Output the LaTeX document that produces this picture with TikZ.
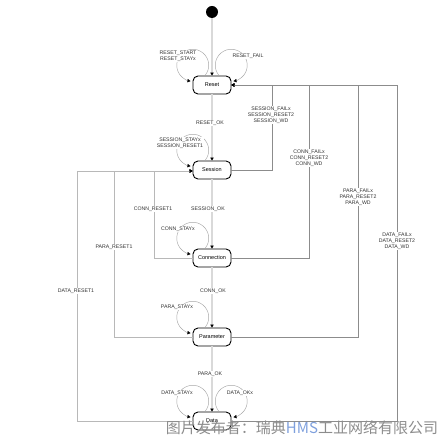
\documentclass[tikz,border=0pt]{standalone}
\usepackage{fontspec}
\setmainfont{Liberation Sans}
\newfontfamily\cjk{Noto Sans CJK SC}
\usetikzlibrary{arrows.meta}
\definecolor{mainline}{HTML}{D9D9D9}
\definecolor{hmsblue}{HTML}{7FA0DD}
\begin{document}
\begin{tikzpicture}[x=1pt,y=1pt]
        \tikzstyle{block} = [rectangle, rounded corners=5pt, text=black, text centered, draw=black, line width=.9pt, fill=white, font=\fontsize{5.5}{6}\selectfont, minimum width=38pt, minimum height=18pt, inner sep=0pt]
        \tikzstyle{lbl} = [fill=white, inner sep=.5pt, align=center, text=black!80, font=\fontsize{5.2}{6.2}\selectfont]
        \tikzstyle{tip} = [-{Triangle[length=3pt,width=3.4pt,color=black]}]
        \tikzstyle{line} = [tip, draw=mainline, line width=2.4pt]
        \tikzstyle{fail} = [tip, draw=black!45, line width=.7pt]
        \tikzstyle{back} = [tip, draw=black!28, line width=.7pt]
        \tikzstyle{loopline} = [tip, draw=black!35, line width=.45pt]
        \useasboundingbox (0,0) rectangle (445,439);
        \node[circle, fill=black, minimum size=12pt, inner sep=0pt] (start) at (212,427) {};
        \node[block] (reset) at (212,354) {Reset};
        \node[block] (session) at (212,269) {Session};
        \node[block] (conn) at (212,181) {Connection};
        \node[block] (para) at (212,102) {Parameter};
        \node[block] (data) at (212,18) {Data};
        % main flow
        \draw[line] (start) to (reset);
        \draw[line] (reset) to (session);
        \draw[line] (session) to (conn);
        \draw[line] (conn) to (para);
        \draw[line] (para) to (data);
        % fail / watchdog back to reset
        \draw[fail] (session.east) -- ++(41,0) |- (reset.east);
        \draw[fail] (conn.east) -- ++(78,0) |- (reset.east);
        \draw[fail] (para.east) -- ++(127,0) |- (reset.east);
        \draw[fail] (data.east) -- ++(166,0) |- (reset.east);
        % reset1 back to session
        \draw[back] (conn.west) -- ++(-38,0) |- ([yshift=-1pt]session.west);
        \draw[back] (para.west) -- ++(-78,0) |- ([yshift=-1pt]session.west);
        \draw[back] (data.west) -- ++(-115,0) |- ([yshift=-1pt]session.west);
        % self loops
        \draw[loopline] ([xshift=-7pt]reset.north) arc[start angle=-40, end angle=262, radius=16pt];
        \draw[loopline] ([xshift=7pt]reset.north) arc[start angle=220, end angle=-82, radius=16pt];
        \draw[loopline] ([xshift=-7pt]session.north) arc[start angle=-40, end angle=262, radius=16pt];
        \draw[loopline] ([xshift=-7pt]conn.north) arc[start angle=-40, end angle=262, radius=16pt];
        \draw[loopline] ([xshift=-7pt]para.north) arc[start angle=-40, end angle=262, radius=16pt];
        \draw[loopline] ([xshift=-7pt]data.north) arc[start angle=-40, end angle=262, radius=16pt];
        \draw[loopline] ([xshift=7pt]data.north) arc[start angle=220, end angle=-82, radius=16pt];
        % labels
        \node[lbl] (lresetstart) at (178,383) {RESET\_START\\RESET\_STAYx};
        \node[lbl] (lresetfail) at (248,383) {RESET\_FAIL};
        \node[lbl] (lresetok) at (210,316) {RESET\_OK};
        \node[lbl] (lsessstay) at (180,296) {SESSION\_STAYx\\SESSION\_RESET1};
        \node[lbl] (lsessfail) at (271,324) {SESSION\_FAILx\\SESSION\_RESET2\\SESSION\_WD};
        \node[lbl] (lsessok) at (208,230) {SESSION\_OK};
        \node[lbl] (lconnreset) at (153,230) {CONN\_RESET1};
        \node[lbl] (lconnstay) at (178,210) {CONN\_STAYx};
        \node[lbl] (lconnfail) at (309,281) {CONN\_FAILx\\CONN\_RESET2\\CONN\_WD};
        \node[lbl] (lparareset) at (114,192) {PARA\_RESET1};
        \node[lbl] (lparafail) at (358,242) {PARA\_FAILx\\PARA\_RESET2\\PARA\_WD};
        \node[lbl] (ldatafail) at (397,198) {DATA\_FAILx\\DATA\_RESET2\\DATA\_WD};
        \node[lbl] (ldatareset) at (76,148) {DATA\_RESET1};
        \node[lbl] (lconnok) at (213,148) {CONN\_OK};
        \node[lbl] (lparastay) at (177,132) {PARA\_STAYx};
        \node[lbl] (lparaok) at (210,65) {PARA\_OK};
        \node[lbl] (ldatastay) at (177,46) {DATA\_STAYx};
        \node[lbl] (ldataok) at (240,46) {DATA\_OKx};
        % publisher mark
        \node[text=black!45, font=\cjk\fontsize{15}{15}\selectfont, inner sep=0pt] (mark) at (302,11) {图片发布者：瑞典\textcolor{hmsblue}{HMS}工业网络有限公司};
\end{tikzpicture}
\end{document}
